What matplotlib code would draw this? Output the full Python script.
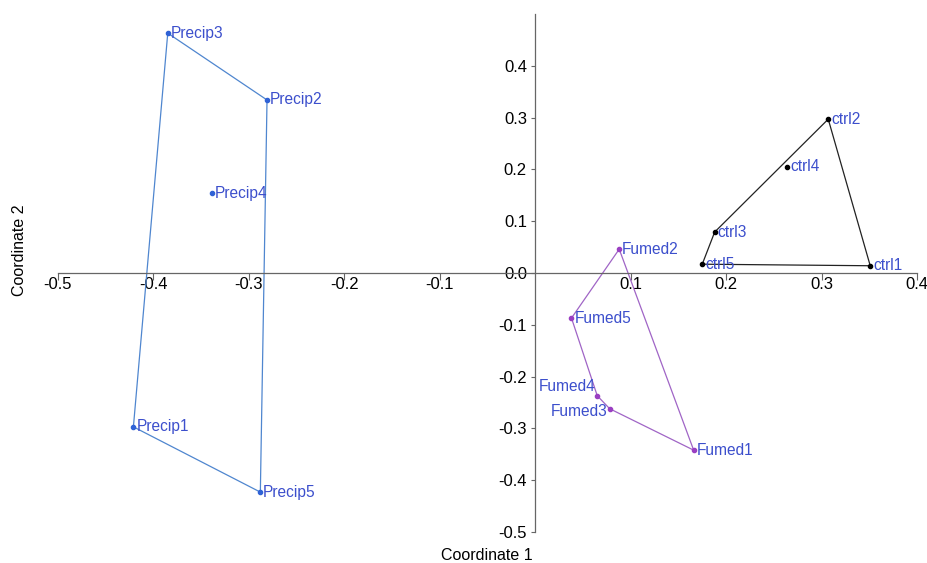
import numpy as np
import matplotlib
matplotlib.use("Agg")
import matplotlib.pyplot as plt

plt.rcParams["font.family"] = ["Liberation Sans", "DejaVu Sans"]

# PCoA coordinates
precip_names = ["Precip1", "Precip2", "Precip3", "Precip4", "Precip5"]
precip_x = [-0.421, -0.281, -0.385, -0.339, -0.288]
precip_y = [-0.297, 0.334, 0.463, 0.154, -0.423]
precip_hull = [2, 1, 4, 0, 2]

ctrl_names = ["ctrl1", "ctrl2", "ctrl3", "ctrl4", "ctrl5"]
ctrl_x = [0.351, 0.307, 0.188, 0.264, 0.175]
ctrl_y = [0.014, 0.297, 0.079, 0.205, 0.017]
ctrl_hull = [1, 0, 4, 2, 1]

fumed_names = ["Fumed1", "Fumed2", "Fumed3", "Fumed4", "Fumed5"]
fumed_x = [0.166, 0.088, 0.078, 0.065, 0.038]
fumed_y = [-0.342, 0.046, -0.262, -0.237, -0.087]
fumed_hull = [1, 0, 2, 3, 4, 1]

x_ticks = [-0.5, -0.4, -0.3, -0.2, -0.1, 0.1, 0.2, 0.3, 0.4]
y_ticks = [-0.5, -0.4, -0.3, -0.2, -0.1, 0.0, 0.1, 0.2, 0.3, 0.4]

LABEL_COLOR = "#3c4fcc"
groups = [
    (precip_names, precip_x, precip_y, precip_hull, "#2f62d6", "#4f86cf"),
    (ctrl_names, ctrl_x, ctrl_y, ctrl_hull, "black", "#222222"),
    (fumed_names, fumed_x, fumed_y, fumed_hull, "#9a3fc2", "#a065c6"),
]
# labels drawn to the left of the point
left_labels = {"Fumed3", "Fumed4"}

fig = plt.figure(figsize=(9.28, 5.63), dpi=100)
ax = fig.add_axes([58 / 928, 1 - 532 / 563, (917 - 58) / 928, (532 - 14) / 563])
ax.set_xlim(-0.5, 0.4)
ax.set_ylim(-0.5, 0.5)

for names, xs, ys, hull, pcol, lcol in groups:
    hx = [xs[i] for i in hull]
    hy = [ys[i] for i in hull]
    ax.plot(hx, hy, color=lcol, linewidth=0.9, zorder=2)
    ax.scatter(xs, ys, s=9, color=pcol, zorder=3)
    for n, x, y in zip(names, xs, ys):
        if n in left_labels:
            dy = 0.018 if n == "Fumed4" else -0.006
            ax.text(x - 0.002, y + dy, n, color=LABEL_COLOR, fontsize=11.2,
                    ha="right", va="center", zorder=4)
        else:
            ax.text(x + 0.003, y, n, color=LABEL_COLOR, fontsize=11.2,
                    ha="left", va="center", zorder=4)

for side in ["right", "top"]:
    ax.spines[side].set_visible(False)
ax.spines["left"].set_position(("data", 0))
ax.spines["bottom"].set_position(("data", 0))
for side in ["left", "bottom"]:
    ax.spines[side].set_color("#666666")
    ax.spines[side].set_linewidth(0.9)

ax.set_xticks(x_ticks)
ax.set_xticklabels([f"{v:.1f}" for v in x_ticks])
ax.set_yticks(y_ticks)
ax.set_yticklabels([f"{v:.1f}" for v in y_ticks])
ax.tick_params(axis="both", labelsize=12, color="#666666")
ax.tick_params(axis="x", length=5, pad=-2)
ax.tick_params(axis="y", length=3, pad=3)

fig.text(487 / 928, 1 - 556 / 563, "Coordinate 1", ha="center", va="center", fontsize=11.5)
fig.text(20 / 928, 1 - 250 / 563, "Coordinate 2", ha="center", va="center",
         rotation=90, fontsize=11.5)

fig.savefig("out.png", dpi=100)
